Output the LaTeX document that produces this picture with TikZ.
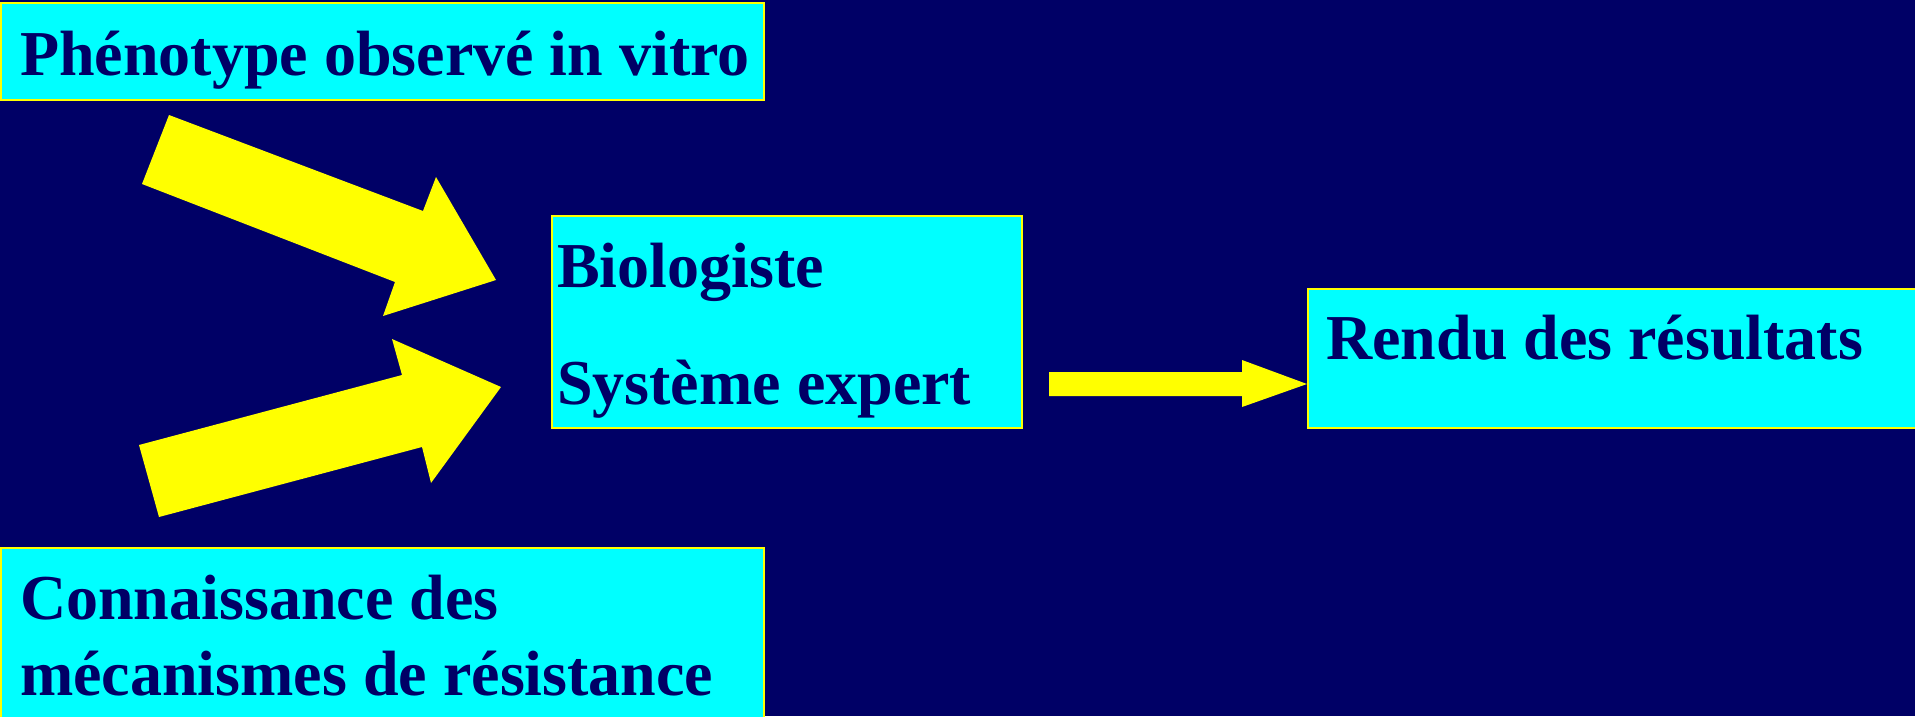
\documentclass[tikz,border=0pt]{standalone}
\usepackage{fontspec}
\setmainfont{Liberation Serif}
\definecolor{navy}{RGB}{0,0,102}
\definecolor{boxcyan}{RGB}{0,255,255}
\definecolor{arrowyellow}{RGB}{255,255,0}
\begin{document}
\begin{tikzpicture}[x=1pt,y=-1pt,
  box/.style={draw=arrowyellow, line width=1.5pt, fill=boxcyan, rectangle, inner sep=0pt, anchor=north west},
  txt/.style={anchor=base west, inner sep=0pt, text=navy, font=\fontsize{64}{64}\selectfont\bfseries},
  blockarrow/.style={fill=arrowyellow, draw=none}]
  % page and background
  \useasboundingbox (0,0) rectangle (1915,716);
  \fill[navy] (0,0) rectangle (1915,716);
  \clip (0,0) rectangle (1915,716);

  % boxes
  \node[box, minimum width=763pt, minimum height=97pt] (pheno) at (0,2) {};
  \node[box, minimum width=470pt, minimum height=212pt] (bio) at (551,215) {};
  \node[box, minimum width=620pt, minimum height=139pt] (rendu) at (1307,288) {};
  \node[box, minimum width=763pt, minimum height=180pt] (conn) at (0,547) {};

  % texts
  \node[txt] (t1) at (20,75) {Phénotype observé in vitro};
  \node[txt] (t2) at (557,287) {Biologiste};
  \node[txt] (t3) at (557,404) {Système expert};
  \node[txt] (t4) at (1326,359) {Rendu des résultats};
  \node[txt] (t5) at (20,619) {Connaissance des};
  \node[txt] (t6) at (20,695) {mécanismes de résistance};

  % block arrows
  \coordinate (tip) at (rendu.west |- 0,384);
  \fill[blockarrow] (169,115) -- (423,211) -- (436,177) -- (496,280)
    -- (383,316) -- (395,282) -- (142,184) -- cycle;
  \fill[blockarrow] (139,445) -- (402,375) -- (392,339) -- (501,387)
    -- (431,483) -- (422,447) -- (159,517) -- cycle;
  \fill[blockarrow] (1049,372) -- (1242,372) -- (1242,360) -- (tip)
    -- (1242,407) -- (1242,396) -- (1049,396) -- cycle;
\end{tikzpicture}
\end{document}
